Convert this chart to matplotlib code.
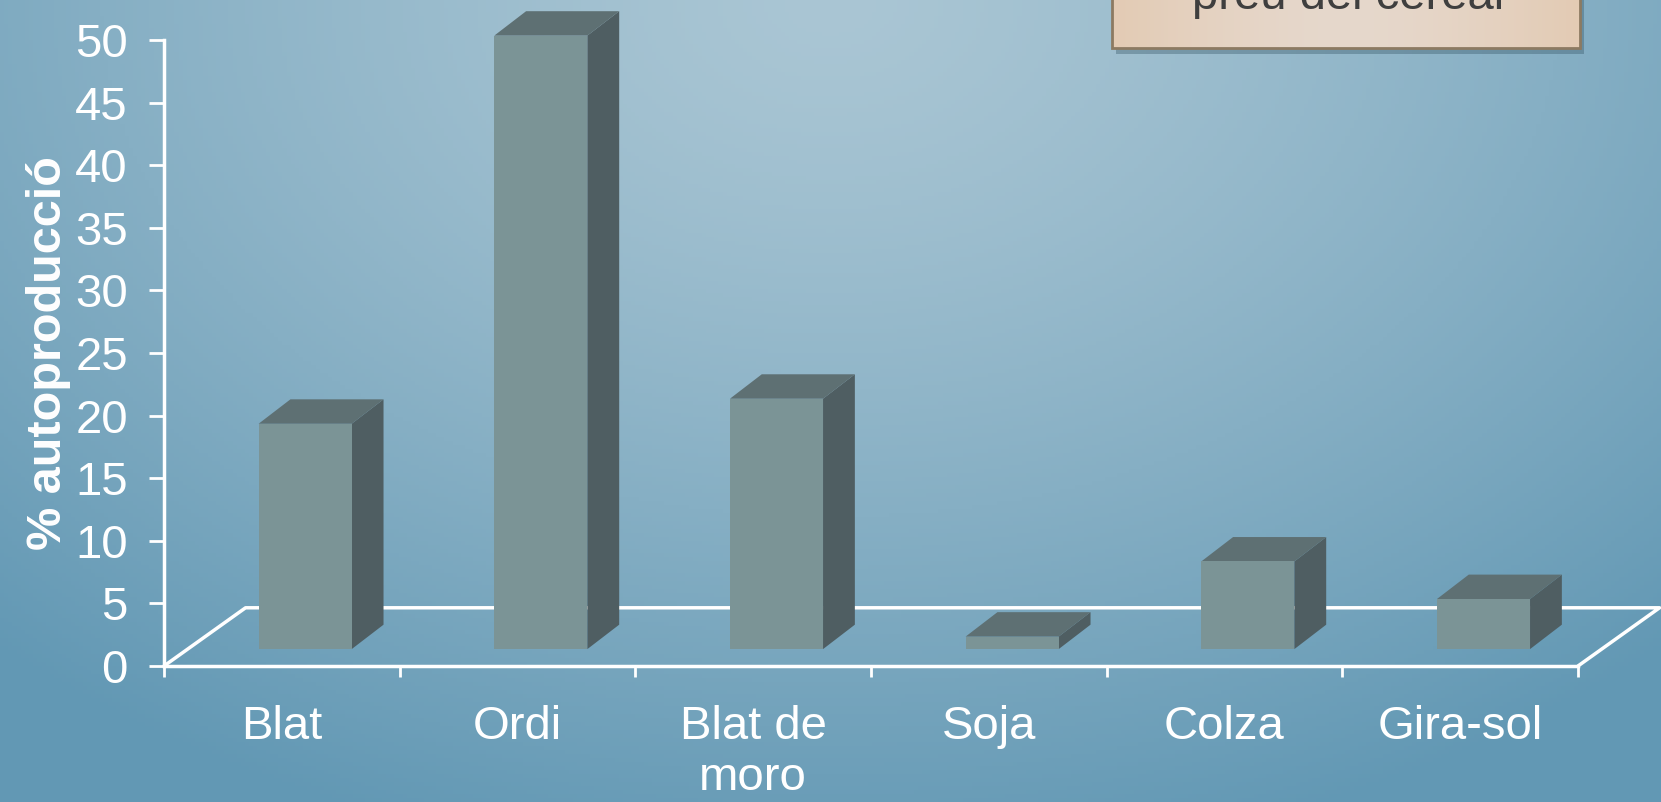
import numpy as np
import matplotlib.pyplot as plt
from matplotlib.patches import Polygon, Rectangle

plt.rcParams['font.family'] = ['Liberation Sans', 'DejaVu Sans']

# data
categories = ['Blat', 'Ordi', 'Blat de\nmoro', 'Soja', 'Colza', 'Gira-sol']
values = [18, 49, 20, 1, 7, 4]
y_ticks = list(range(0, 51, 5))
y_label = '% autoproducció'
box_text = 'preu del cereal'

W, H = 1661, 802
fig = plt.figure(figsize=(W / 100, H / 100), dpi=100)

# background gradient (lighter at the top centre)
bg = fig.add_axes([0, 0, 1, 1], zorder=-10)
yy, xx = np.mgrid[0:1:200j, 0:1:400j]
r = np.clip(np.sqrt(((xx - 0.5) / 0.75) ** 2 + (yy / 1.1) ** 2), 0, 1)
light = np.array([170, 198, 212]) / 255
dark = np.array([98, 152, 180]) / 255
bg.imshow(light + (dark - light) * r[..., None] ** 1.3, extent=[0, 1, 0, 1],
          origin='upper', aspect='auto')
bg.axis('off')

# main axes, placed so 0..6 / 0..50 hits the reference pixels
x0, x1 = 164 / W, 1578 / W
y0, y1 = 1 - 666 / H, 1 - 40 / H
ax = fig.add_axes([x0, y0, x1 - x0, y1 - y0])
ax.set_xlim(0, len(categories))
ax.set_ylim(0, 50)
ax.patch.set_alpha(0)

# pseudo 3d geometry (data units)
floor_dx, floor_dy = 0.346, 4.65
bar_w = 0.395
bar_x, bar_y = 0.099, 1.35
depth_dx, depth_dy = 0.135, 1.95

front_c, side_c, top_c = '#7b9496', '#4f5e62', '#5e7073'
line_kw = dict(color='white', lw=2.5, clip_on=False, solid_capstyle='round')

n = len(categories)
ax.plot([0, floor_dx, n + floor_dx, n], [0, floor_dy, floor_dy, 0], zorder=1, **line_kw)

for i, v in enumerate(values):
    xl = i + (1 - bar_w) / 2 + bar_x
    xr = xl + bar_w
    b, t = bar_y, bar_y + v
    ax.add_patch(Polygon([(xr, b), (xr + depth_dx, b + depth_dy),
                          (xr + depth_dx, t + depth_dy), (xr, t)],
                         closed=True, fc=side_c, ec='none', clip_on=False, zorder=2))
    ax.add_patch(Polygon([(xl, t), (xr, t), (xr + depth_dx, t + depth_dy),
                          (xl + depth_dx, t + depth_dy)],
                         closed=True, fc=top_c, ec='none', clip_on=False, zorder=2))
    ax.add_patch(Rectangle((xl, b), bar_w, v, fc=front_c, ec='none',
                           clip_on=False, zorder=3))

for s in ['top', 'right']:
    ax.spines[s].set_visible(False)
for s in ['left', 'bottom']:
    ax.spines[s].set_color('white')
    ax.spines[s].set_linewidth(2.5)
    ax.spines[s].set_zorder(4)

ax.set_yticks(y_ticks)
ax.tick_params(axis='y', colors='white', labelsize=34, length=11, width=2,
               direction='out', pad=15)
ax.set_xticks(range(n + 1))
ax.set_xticklabels([])
ax.tick_params(axis='x', which='major', colors='white', length=8, width=2, direction='out')
ax.set_xticks(np.arange(n) + 0.5, minor=True)
ax.set_xticklabels(categories, minor=True, fontsize=34, color='white', linespacing=1.22)
ax.tick_params(axis='x', which='minor', length=0, pad=28)
ax.set_ylabel(y_label, fontsize=35, fontweight='bold', color='white', labelpad=3)

# text box at the top right, mostly cut off by the figure edge
ov = fig.add_axes([0, 0, 1, 1], zorder=5)
ov.set_xlim(0, W)
ov.set_ylim(H, 0)
ov.axis('off')
bx0, bx1, by0, by1 = 1112, 1580, -20, 48
ov.add_patch(Rectangle((bx0 + 4, by0 + 6), bx1 - bx0, by1 - by0, fc='#2f4f5f',
                       alpha=0.35, ec='none'))
gy, gx = np.mgrid[0:1:20j, 0:1:200j]
edge = np.abs(gx - 0.5) * 2
c_mid = np.array([230, 216, 204]) / 255
c_edge = np.array([227, 203, 180]) / 255
im = ov.imshow(c_mid + (c_edge - c_mid) * edge[..., None] ** 1.5,
               extent=[bx0, bx1, by1, by0], aspect='auto', zorder=6)
rect = Rectangle((bx0, by0), bx1 - bx0, by1 - by0, fc='none', ec='#8c7a62', lw=2, zorder=7)
ov.add_patch(rect)
im.set_clip_path(rect)
ov.text((bx0 + bx1) / 2 + 2, 9, box_text, fontsize=34, color='#3f3f3f',
        ha='center', va='baseline', zorder=8)

fig.savefig('out.png', dpi=100)
